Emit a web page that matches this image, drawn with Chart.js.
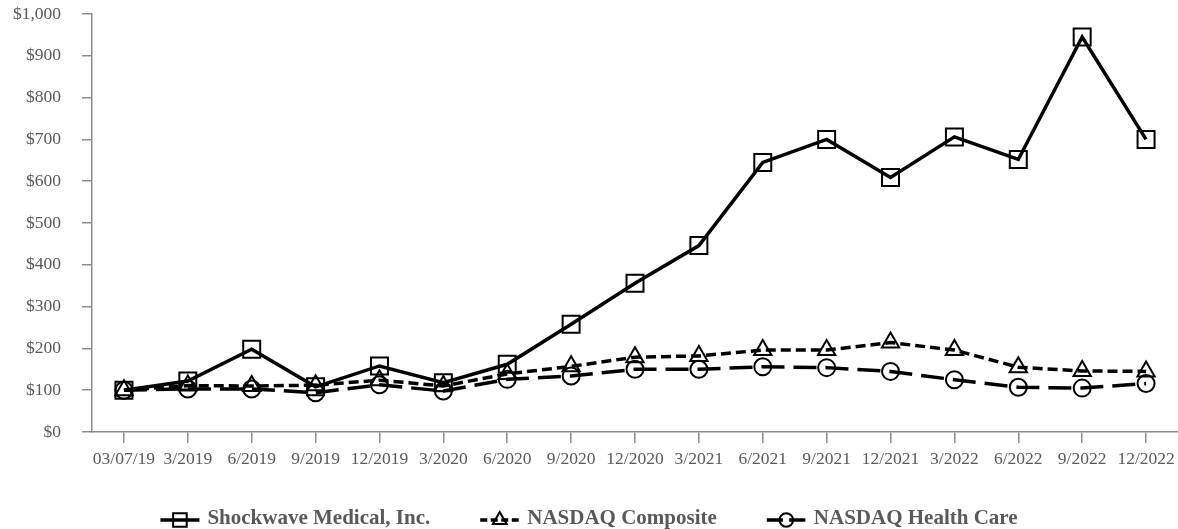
<!DOCTYPE html>
<html>
<head>
<meta charset="utf-8">
<title>Shockwave Medical - Total Return</title>
<script src="https://cdn.jsdelivr.net/npm/chart.js"></script>
<style>
  html, body { margin: 0; padding: 0; background: #fff; }
  #wrap { width: 1178px; height: 529px; }
</style>
</head>
<body>
<div id="wrap"><canvas id="returnChart" width="1178" height="529"></canvas></div>
<script>
// values
const periods = ['03/07/19', '3/2019', '6/2019', '9/2019', '12/2019', '3/2020', '6/2020', '9/2020', '12/2020',
                 '3/2021', '6/2021', '9/2021', '12/2021', '3/2022', '6/2022', '9/2022', '12/2022'];
const shockwave = [100, 122, 198, 108, 158, 118, 162, 258, 356, 446, 645, 700, 609, 706, 652, 945, 700];
const nasdaqComposite = [100, 111, 110, 112, 124, 110, 139, 157, 179, 182, 196, 196, 214, 196, 155, 146, 145];
const nasdaqHealthCare = [100, 103, 103, 94, 113, 98, 126, 134, 150, 150, 156, 154, 145, 125, 107, 105, 116];
const yTicks = [0, 100, 200, 300, 400, 500, 600, 700, 800, 900, 1000];

const axisGrey = '#8c8c8c';
const textGrey = '#595959';

// legend drawn under the axis: line sample + marker + bold label
const bottomLegend = {
    id: 'bottomLegend',
    afterDraw(chart) {
        const ctx = chart.ctx;
        const y = 519;
        const symW = 39, gap = 8, between = 50;
        ctx.save();
        ctx.font = 'bold 21px "Liberation Serif", "Times New Roman", serif';
        const items = chart.data.datasets.map(ds => ({ ds, w: symW + gap + ctx.measureText(ds.label).width }));
        const total = items.reduce((s, it) => s + it.w, 0) + between * (items.length - 1);
        let x = (chart.width - total) / 2;
        items.forEach(({ ds }) => {
            ctx.strokeStyle = '#000';
            ctx.lineWidth = 3.5;
            ctx.setLineDash(ds.borderDash ? ds.borderDash.map(d => d * 0.7) : []);
            ctx.beginPath();
            ctx.moveTo(x, y + 1);
            ctx.lineTo(x + symW, y + 1);
            ctx.stroke();
            ctx.setLineDash([]);
            ctx.fillStyle = 'rgba(0,0,0,0)';
            ctx.lineWidth = 2;
            Chart.helpers.drawPoint(ctx, { pointStyle: ds.pointStyle, radius: ds.pointRadius * 0.8, rotation: 0, borderWidth: 2 }, x + symW / 2, y + 1);
            ctx.fillStyle = textGrey;
            ctx.textBaseline = 'middle';
            ctx.textAlign = 'left';
            ctx.fillText(ds.label, x + symW + gap, y);
            x += symW + gap + ctx.measureText(ds.label).width + between;
        });
        ctx.restore();
    }
};

const ctx = document.getElementById('returnChart');
new Chart(ctx.getContext('2d'), {
    type: 'line',
    data: {
        labels: periods,
        datasets: [{
            label: 'Shockwave Medical, Inc.',
            data: shockwave,
            borderColor: '#000',
            borderWidth: 3.5,
            pointStyle: 'rect',
            pointRadius: 12,
            pointBorderWidth: 2,
            pointBorderColor: '#000',
            pointBackgroundColor: 'rgba(0,0,0,0)',
            tension: 0
        }, {
            label: 'NASDAQ Composite',
            data: nasdaqComposite,
            borderColor: '#000',
            borderWidth: 3.5,
            borderDash: [10, 5],
            pointStyle: 'triangle',
            pointRadius: 10,
            pointBorderWidth: 2,
            pointBorderColor: '#000',
            pointBackgroundColor: 'rgba(0,0,0,0)',
            tension: 0
        }, {
            label: 'NASDAQ Health Care',
            data: nasdaqHealthCare,
            borderColor: '#000',
            borderWidth: 3.5,
            borderDash: [23, 9],
            pointStyle: 'circle',
            pointRadius: 8.5,
            pointBorderWidth: 2,
            pointBorderColor: '#000',
            pointBackgroundColor: 'rgba(0,0,0,0)',
            tension: 0
        }]
    },
    options: {
        responsive: false,
        animation: false,
        clip: false,
        layout: { autoPadding: false, padding: { top: 0, right: 0, bottom: 53, left: 0 } },
        plugins: {
            legend: { display: false },
            tooltip: { enabled: false }
        },
        scales: {
            x: {
                offset: true,
                afterFit(scale) { scale.paddingLeft = 0; scale.paddingRight = 0; },
                grid: { drawOnChartArea: false, drawTicks: true, tickLength: 11, color: axisGrey, lineWidth: 1.5 },
                border: { color: axisGrey, width: 1.5 },
                ticks: {
                    color: textGrey,
                    padding: 6,
                    maxRotation: 0,
                    autoSkip: false,
                    font: { family: '"Liberation Serif", "Times New Roman", serif', size: 17.5 }
                }
            },
            y: {
                min: 0,
                max: 1000,
                afterFit(scale) { scale.width = 92; scale.paddingTop = 14; },
                afterBuildTicks(scale) { scale.ticks = yTicks.map(v => ({ value: v })); },
                grid: { drawOnChartArea: false, drawTicks: true, tickLength: 10, color: axisGrey, lineWidth: 1.5 },
                border: { color: axisGrey, width: 1.5 },
                ticks: {
                    color: textGrey,
                    padding: 21,
                    callback: v => '$' + v.toLocaleString('en-US'),
                    font: { family: '"Liberation Serif", "Times New Roman", serif', size: 17.5 }
                }
            }
        }
    },
    plugins: [bottomLegend]
});
</script>
</body>
</html>
